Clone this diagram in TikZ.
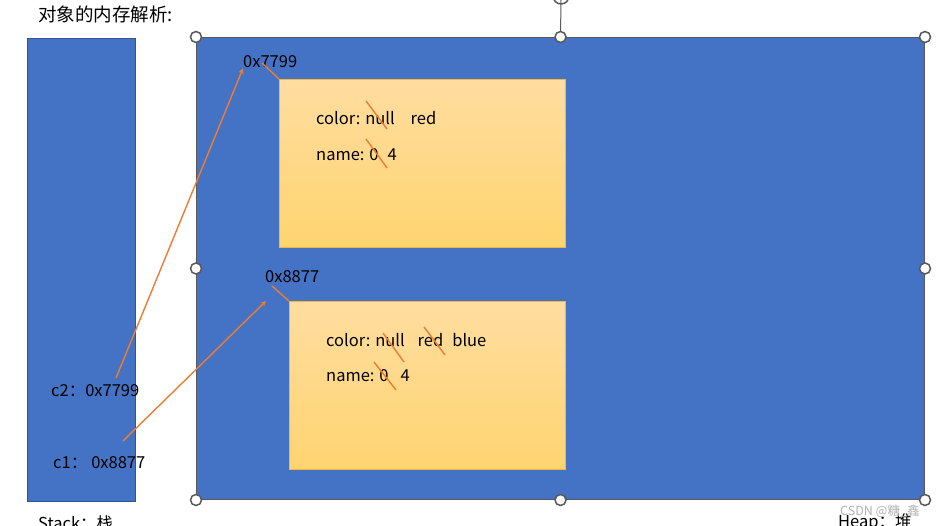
\documentclass[tikz,border=0pt]{standalone}
\usepackage{fontspec}
\setmainfont{Noto Sans CJK SC}
\usetikzlibrary{positioning}
\definecolor{slideblue}{HTML}{4472C4}
\definecolor{stackborder}{HTML}{2F5597}
\definecolor{handlegray}{HTML}{595959}
\definecolor{noteorange}{HTML}{ED7D31}
\definecolor{boxtop}{HTML}{FFDDA0}
\definecolor{boxbot}{HTML}{FFD470}
\definecolor{boxborder}{HTML}{F5B63A}
\begin{document}
\begin{tikzpicture}[x=1pt,y=-1pt]
  \tikzset{handle/.style = {draw=handlegray, circle, fill=white, line width=1.5pt, minimum size=11pt, inner sep=0pt}}
  \tikzset{txt/.style = {inner sep=0pt, anchor=base west, font=\fontsize{16.5}{19}\selectfont}}
  \tikzset{objbox/.style = {draw=boxborder, top color=boxtop, bottom color=boxbot, inner sep=0pt, anchor=north west, minimum height=168pt}}
  \tikzset{strike/.style = {noteorange, line width=1.4pt}}
  \tikzset{ref/.style = {noteorange, line width=1.4pt, -stealth}}

  \useasboundingbox (0,0) rectangle (948,526);

  % title
  \node[txt, font=\fontsize{18.5}{21}\selectfont] (title) at (38,22) {对象的内存解析:};

  % Stack
  \node[draw=stackborder, fill=slideblue, minimum width=108pt, minimum height=463pt, inner sep=0pt, anchor=north west] (stack) at (27,38) {};
  \node[txt] (stacklbl) at (38,529) {Stack：栈};
  \node[txt] (refA) at (51,397) {c2：0x7799};
  \node[txt] (refB) at (53,468) {c1：\hspace{4pt}0x8877};

  % Heap
  \node[draw=handlegray, line width=1pt, fill=slideblue, minimum width=728pt, minimum height=462pt, inner sep=0pt, anchor=north west] (heap) at (196,37) {};
  \node[txt] (heaplbl) at (838,527) {Heap：堆};
  \draw[handlegray, line width=1pt] (heap.north) -- (561,0);
  \draw[handlegray, line width=1.5pt] (561,-4) ++(20:8) arc (20:160:8);
  \foreach \a/\n in {north west/nw, north/n, north east/ne, west/w, east/e, south west/sw, south/s, south east/se}
    \node[handle] (h-\n) at (heap.\a) {};

  % objects
  \node[objbox, minimum width=286pt] (objA) at (279,79) {};
  \node[txt] (addrA) at (243,68) {0x7799};
  \node[txt] (colA) at (316,125) {color: null\hspace{16pt}red};
  \node[txt] (nameA) at (316,161) {name: 0\hspace{9pt}4};
  \draw[strike] (366,101) -- (387,129);
  \draw[strike] (366,139) -- (387,168);

  \node[objbox, minimum width=276pt] (objB) at (289,301) {};
  \node[txt] (addrB) at (265,283) {0x8877};
  \node[txt] (colB) at (326,347) {color: null\hspace{13pt}red\hspace{9pt}blue};
  \node[txt] (nameB) at (326,382) {name: 0\hspace{12pt}4};
  \draw[strike] (383,333) -- (404,362);
  \draw[strike] (424,327) -- (445,355);
  \draw[strike] (374,362) -- (396,390);

  % pointers
  \coordinate (pA) at (262,63);
  \coordinate (pB) at (272,286);
  \draw[strike] (pA) -- (objA.north west);
  \draw[strike] (pB) -- (objB.north west);
  \coordinate (c2tail) at (116,378);
  \coordinate (c1tail) at (123,441);
  \coordinate (c1head) at (266,301);
  \draw[ref] (c2tail) -- (addrA.south west);
  \draw[ref] (c1tail) -- (c1head);

  % watermark
  \node[inner sep=0pt, anchor=base west, text=gray!60, font=\fontsize{12.5}{14}\selectfont] (mark) at (840,515) {CSDN @糖\_鑫};
\end{tikzpicture}
\end{document}
